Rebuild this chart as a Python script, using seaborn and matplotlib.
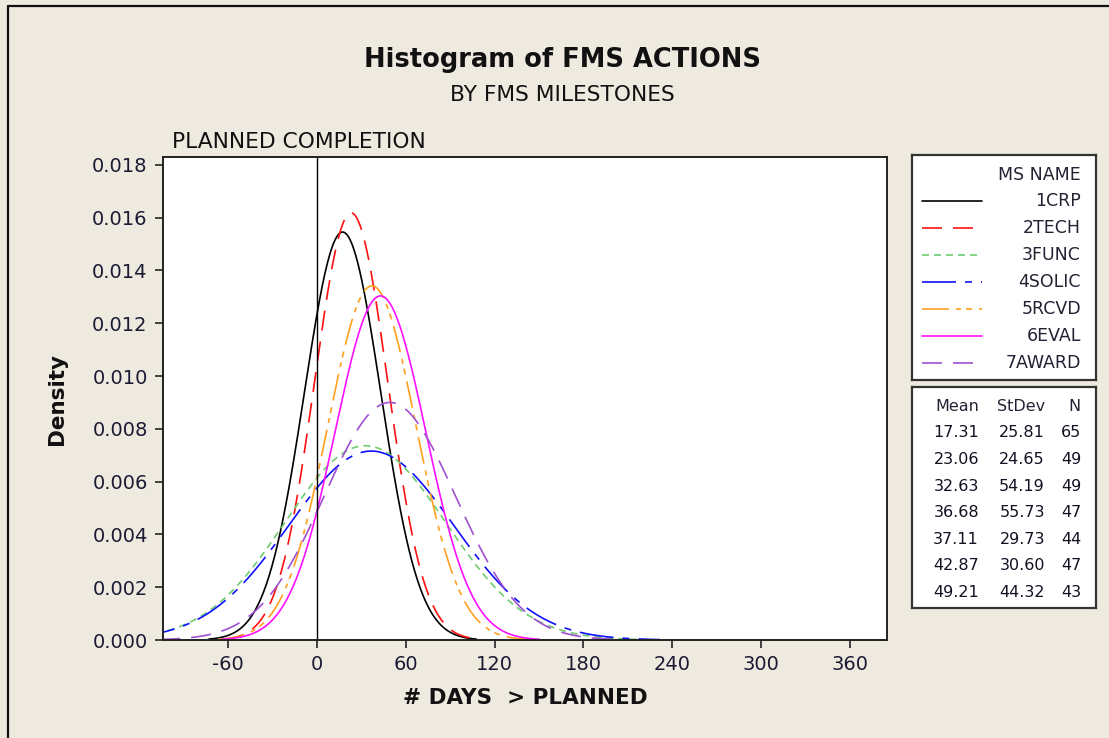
import numpy as np
import pandas as pd
import matplotlib
matplotlib.use("Agg")
import matplotlib.pyplot as plt
import seaborn as sns

# ---- data ----
names = ["1CRP", "2TECH", "3FUNC", "4SOLIC", "5RCVD", "6EVAL", "7AWARD"]
means = [17.31, 23.06, 32.63, 36.68, 37.11, 42.87, 49.21]
stdevs = [25.81, 24.65, 54.19, 55.73, 29.73, 30.60, 44.32]
counts = [65, 49, 49, 47, 44, 47, 43]
x_ticks = [-60, 0, 60, 120, 180, 240, 300, 360]
y_ticks = [0.000, 0.002, 0.004, 0.006, 0.008, 0.010, 0.012, 0.014, 0.016, 0.018]

colors = {"1CRP": "#000000", "2TECH": "#ff1010", "3FUNC": "#70cc70",
          "4SOLIC": "#1010ff", "5RCVD": "#ffa020", "6EVAL": "#ff10ff",
          "7AWARD": "#a050d0"}
PX = 0.72
dashes = {"1CRP": "", "2TECH": (20*PX, 11*PX), "3FUNC": (7*PX, 5*PX),
          "4SOLIC": (34*PX, 9*PX, 7*PX, 9*PX),
          "5RCVD": (27*PX, 7*PX, 5*PX, 5*PX, 6*PX, 7*PX),
          "6EVAL": "", "7AWARD": (20*PX, 11*PX)}

# fitted normal curves (Minitab-style histogram fit), from mean/stdev above
rows = []
for n, m, s in zip(names, means, stdevs):
    xs = np.linspace(m - 3.5*s, m + 3.5*s, 400)
    ys = np.exp(-0.5*((xs - m)/s)**2) / (s*np.sqrt(2*np.pi))
    for a, b in zip(xs, ys):
        rows.append((n, a, b))
df = pd.DataFrame(rows, columns=["name", "x", "density"])

sns.set_theme(style="white")
plt.rcParams["font.family"] = ["DejaVu Sans"]
plt.rcParams["lines.scale_dashes"] = False

W, H = 1109, 738
BG = "#eeeae0"
fig = plt.figure(figsize=(W/100, H/100), dpi=100, facecolor=BG)

def rect(x0, y0, x1, y1):
    return [x0/W, 1 - y1/H, (x1-x0)/W, (y1-y0)/H]

ax = fig.add_axes(rect(163, 157, 887, 640))
ax.set_facecolor("white")
sns.lineplot(data=df, x="x", y="density", hue="name", style="name",
             palette=colors, dashes=dashes, linewidth=1.2, legend=False,
             sort=False, estimator=None, ax=ax)
ax.axvline(0, color="black", lw=1.0)
ax.set_xlim(-104, 385)
ax.set_ylim(0, 0.0183)
ax.set_xticks(x_ticks)
ax.set_xticklabels([str(t) for t in x_ticks])
ax.set_yticks(y_ticks)
ax.set_yticklabels([f"{t:.3f}" for t in y_ticks])
ax.tick_params(axis="both", direction="out", length=6, width=1.2, color="#222222",
               labelsize=14, labelcolor="#1a1a33", bottom=True, left=True)
ax.tick_params(axis="x", pad=5)
ax.tick_params(axis="y", pad=5)
for sp in ax.spines.values():
    sp.set_color("#222222")
    sp.set_linewidth(1.4)
ax.set_xlabel("# DAYS  > PLANNED", fontsize=15.5, fontweight="bold", labelpad=10,
              color="#111111")
ax.set_ylabel("Density", fontsize=15.5, fontweight="bold", labelpad=18,
              color="#111111")

# titles
fig.text(562/W, 1 - 60/H, "Histogram of FMS ACTIONS", ha="center", va="center",
         fontsize=18.5, fontweight="bold", color="#111111")
fig.text(562/W, 1 - 95/H, "BY FMS MILESTONES", ha="center", va="center",
         fontsize=15.7, color="#111111")
fig.text(172/W, 1 - 142/H, "PLANNED COMPLETION", ha="left", va="center",
         fontsize=15.7, color="#111111")

# legend box
lax = fig.add_axes(rect(912, 155, 1096, 380))
lax.set_facecolor("white")
lax.set_xlim(912, 1096)
lax.set_ylim(380, 155)
lax.set_xticks([]); lax.set_yticks([])
for sp in lax.spines.values():
    sp.set_color("#333333"); sp.set_linewidth(1.6)
lax.text(1081, 175, "MS NAME", ha="right", va="center", fontsize=12.5, color="#222233")
for i, n in enumerate(names):
    yy = 201 + i*27
    lax.plot([922, 982], [yy, yy], color=colors[n], lw=1.2,
             linestyle=(0, dashes[n]) if dashes[n] else "-")
    lax.text(1081, yy, n, ha="right", va="center", fontsize=12.5, color="#222233")

# stats box
sax = fig.add_axes(rect(912, 387, 1096, 608))
sax.set_facecolor("white")
sax.set_xlim(912, 1096)
sax.set_ylim(608, 387)
sax.set_xticks([]); sax.set_yticks([])
for sp in sax.spines.values():
    sp.set_color("#333333"); sp.set_linewidth(1.6)
sax.text(979, 407, "Mean", ha="right", va="center", fontsize=11.5, color="#222233")
sax.text(1045, 407, "StDev", ha="right", va="center", fontsize=11.5, color="#222233")
sax.text(1081, 407, "N", ha="right", va="center", fontsize=11.5, color="#222233")
for i, (m, s, c) in enumerate(zip(means, stdevs, counts)):
    yy = 433 + i*26.6
    sax.text(979, yy, f"{m:.2f}", ha="right", va="center", fontsize=11.5, color="#111122")
    sax.text(1045, yy, f"{s:.2f}", ha="right", va="center", fontsize=11.5, color="#111122")
    sax.text(1081, yy, f"{c}", ha="right", va="center", fontsize=11.5, color="#111122")

# outer frame lines (top and left)
fig.add_artist(plt.Line2D([8/W, 8/W], [0, 1 - 6/H], color="#111111", lw=1.6))
fig.add_artist(plt.Line2D([8/W, 1], [1 - 6/H, 1 - 6/H], color="#111111", lw=1.6))

fig.savefig("out.png", dpi=100, facecolor=BG)
